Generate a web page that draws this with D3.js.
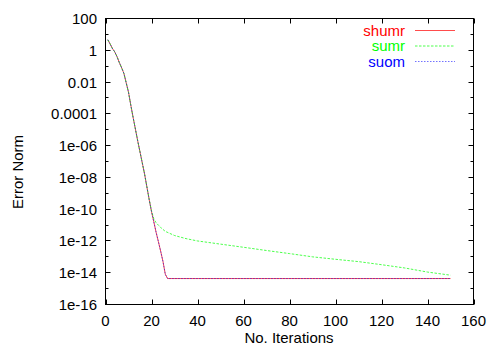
<!DOCTYPE html>
<html><head><meta charset="utf-8">
<script src="https://cdn.jsdelivr.net/npm/d3@7"></script>
<style>html,body{margin:0;padding:0;background:#fff;} svg{display:block;} text{font-family:"Liberation Sans",Arial,Helvetica,sans-serif;}</style>
</head><body>
<svg id="c" width="500" height="350"></svg>
<script>
// Iterations and error norms
const iterHead = [1,2,3,4,5,6,7,8,9,10,11,12,13,14,15,16,17,18,19];
const errHead  = [4.6,2.5,1.3,0.8,0.4,0.17,0.08,0.035,0.009,0.0023,3.5e-4,6e-5,1.1e-5,2e-6,4e-7,8e-8,1.6e-8,2.5e-9,4e-10];

const iterShumrTail = [20,21,22,23,24,25,26,27,150];
const errShumrTail  = [7e-11,1.6e-11,3.5e-12,9e-13,2.2e-13,5e-14,8e-15,4.3e-15,4.3e-15];

const iterSumrTail = [20,21,22,24,26,30,35,40,50,60,70,80,90,100,110,120,130,140,150];
const errSumrTail  = [8e-11,2.5e-11,1.4e-11,7e-12,4e-12,2.2e-12,1.4e-12,1e-12,6.3e-13,4e-13,2.5e-13,1.6e-13,1e-13,7e-14,5e-14,3.2e-14,2e-14,1.1e-14,7e-15];

const iterSuomTail = [20,21,22,23,24,25,26,27,150];
const errSuomTail  = [7e-11,1.6e-11,3.5e-12,9e-13,2.2e-13,5e-14,8e-15,4.3e-15,4.3e-15];

const seriesNames  = ["shumr","sumr","suom"];
const seriesColors = ["#ff0000","#00ff00","#0000ff"];
const xTicks = [0,20,40,60,80,100,120,140,160];
const yTicks = [1e2,1,1e-2,1e-4,1e-6,1e-8,1e-10,1e-12,1e-14,1e-16];
const yTickLabels = ["100","1","0.01","0.0001","1e-06","1e-08","1e-10","1e-12","1e-14","1e-16"];
const yMinor = [10,0.1,1e-3,1e-5,1e-7,1e-9,1e-11,1e-13,1e-15];
const xLabel = "No. Iterations", yLabel = "Error Norm";

const svg = d3.select("#c");
const L = 105.5, R = 473.5, T = 18.5, B = 304.5;
const x = d3.scaleLinear().domain([0,160]).range([L,R]);
const y = d3.scaleLog().domain([1e-16,1e2]).range([B,T]);
const FS = 15;

function zip(a,b){return a.map((v,i)=>[v,b[i]]);}
const data = [
  zip(iterHead.concat(iterShumrTail), errHead.concat(errShumrTail)),
  zip(iterHead.concat(iterSumrTail), errHead.concat(errSumrTail)),
  zip(iterHead.concat(iterSuomTail), errHead.concat(errSuomTail))
];
const dashes = [null,"2.5,1.5","1.5,1.5"];
const opac = [0.7,0.7,0.55];

svg.append("rect").attr("x",L).attr("y",T).attr("width",R-L).attr("height",B-T)
  .attr("fill","none").attr("stroke","#000").attr("stroke-width",1);

const g = svg.append("g");
xTicks.forEach(v=>{
  const px = Math.round(x(v))+0.5;
  g.append("line").attr("x1",px).attr("x2",px).attr("y1",B).attr("y2",B-5).attr("stroke","#000");
  g.append("line").attr("x1",px).attr("x2",px).attr("y1",T).attr("y2",T+5).attr("stroke","#000");
  g.append("text").attr("x",x(v)).attr("y",B+21).attr("text-anchor","middle")
    .attr("font-size",FS).text(d3.format("d")(v));
});
yTicks.forEach((v,i)=>{
  const py = Math.round(y(v)-0.5)+0.5;
  g.append("line").attr("x1",L).attr("x2",L+5).attr("y1",py).attr("y2",py).attr("stroke","#000");
  g.append("line").attr("x1",R).attr("x2",R-5).attr("y1",py).attr("y2",py).attr("stroke","#000");
  g.append("text").attr("x",97).attr("y",y(v)+5.5).attr("text-anchor","end")
    .attr("font-size",FS).text(yTickLabels[i]);
});
yMinor.forEach(v=>{
  const py = Math.round(y(v)-0.5)+0.5;
  g.append("line").attr("x1",L).attr("x2",L+3).attr("y1",py).attr("y2",py).attr("stroke","#000");
  g.append("line").attr("x1",R).attr("x2",R-3).attr("y1",py).attr("y2",py).attr("stroke","#000");
});

const line = d3.line().x(d=>x(d[0])).y(d=>y(d[1]));
data.forEach((d,i)=>{
  svg.append("path").datum(d).attr("d",line).attr("fill","none")
    .attr("stroke",seriesColors[i]).attr("stroke-width",1).attr("stroke-opacity",opac[i])
    .attr("stroke-dasharray",dashes[i]);
});

seriesNames.forEach((n,i)=>{
  const ly = 30 + i*15.5;
  svg.append("text").attr("x",405).attr("y",ly+5.5).attr("text-anchor","end")
    .attr("font-size",FS).attr("fill",seriesColors[i]).text(n);
  svg.append("line").attr("x1",415).attr("x2",455).attr("y1",ly+0.5).attr("y2",ly+0.5)
    .attr("stroke",seriesColors[i]).attr("stroke-width",1).attr("stroke-opacity",opac[i])
    .attr("stroke-dasharray",dashes[i]);
});

svg.append("text").attr("x",289).attr("y",343).attr("text-anchor","middle").attr("font-size",FS).text(xLabel);
svg.append("text").attr("transform","translate(23,172) rotate(-90)").attr("text-anchor","middle").attr("font-size",FS).text(yLabel);
</script>
</body></html>
